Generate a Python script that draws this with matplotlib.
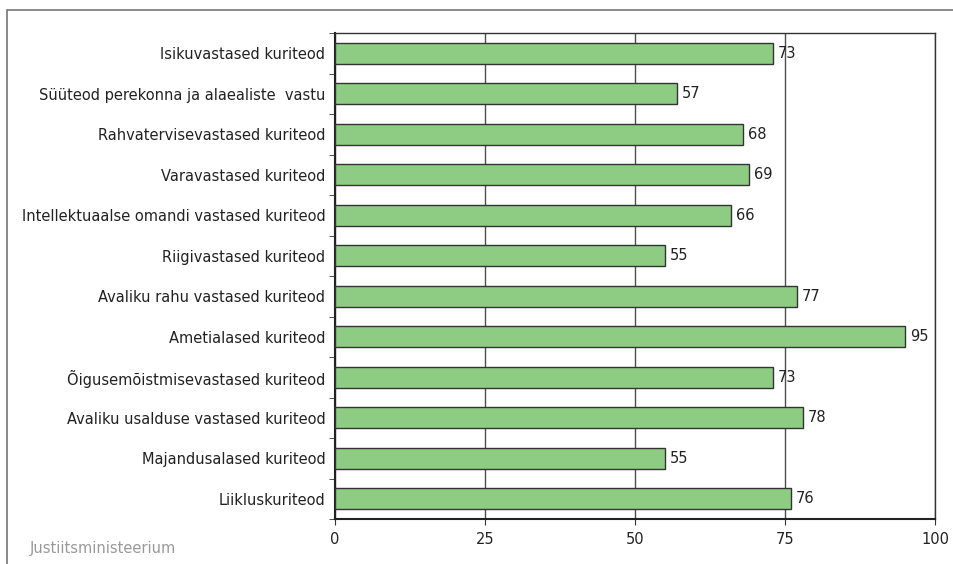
import matplotlib.pyplot as plt
from matplotlib.patches import Rectangle

categories = [
    'Isikuvastased kuriteod',
    'Süüteod perekonna ja alaealiste  vastu',
    'Rahvatervisevastased kuriteod',
    'Varavastased kuriteod',
    'Intellektuaalse omandi vastased kuriteod',
    'Riigivastased kuriteod',
    'Avaliku rahu vastased kuriteod',
    'Ametialased kuriteod',
    'Õigusemõistmisevastased kuriteod',
    'Avaliku usalduse vastased kuriteod',
    'Majandusalased kuriteod',
    'Liikluskuriteod',
]
values = [73, 57, 68, 69, 66, 55, 77, 95, 73, 78, 55, 76]
x_ticks = [0, 25, 50, 75, 100]

plt.rcParams['font.family'] = ['DejaVu Sans']
fs = 10.5

fig = plt.figure(figsize=(9.54, 5.64), dpi=100)
ax = fig.add_axes([335 / 954, 45 / 564, 600 / 954, 486 / 564])

# outer frame
fig.patches.append(Rectangle((7 / 954, -0.1), 1.1, 1 - 10 / 564 + 0.1,
                             transform=fig.transFigure, fill=False,
                             edgecolor='#777777', linewidth=1.2))

pos = list(range(len(categories)))[::-1]
ax.barh(pos, values, height=0.52, color='#8ECC84', edgecolor='#333333',
        linewidth=1, zorder=3)
for p, v in zip(pos, values):
    ax.text(v + 0.8, p, str(v), va='center', ha='left', fontsize=fs,
            color='#222222', zorder=4)

ax.set_xlim(0, 100)
ax.set_ylim(-0.5, len(categories) - 0.5)
ax.set_xticks(x_ticks)
ax.xaxis.grid(True, color='#4d4d4d', linewidth=1, zorder=0)
ax.set_yticks(pos)
ax.set_yticklabels(categories, fontsize=fs, color='#222222')
ax.set_yticks([p - 0.5 for p in range(len(categories) + 1)], minor=True)
ax.tick_params(axis='y', which='major', length=0, pad=7)
ax.tick_params(axis='y', which='minor', length=4, color='#333333')
ax.tick_params(axis='x', length=4, color='#333333', labelsize=fs,
               labelcolor='#222222', pad=5)
for s in ['top', 'right']:
    ax.spines[s].set_color('#333333')
    ax.spines[s].set_linewidth(1)
for s in ['left', 'bottom']:
    ax.spines[s].set_color('#222222')
    ax.spines[s].set_linewidth(1.5)

fig.text(30 / 954, 1 - 549 / 564, 'Justiitsministeerium', fontsize=fs,
         color='#999999', va='center', ha='left')

plt.savefig('out.png', dpi=100)
